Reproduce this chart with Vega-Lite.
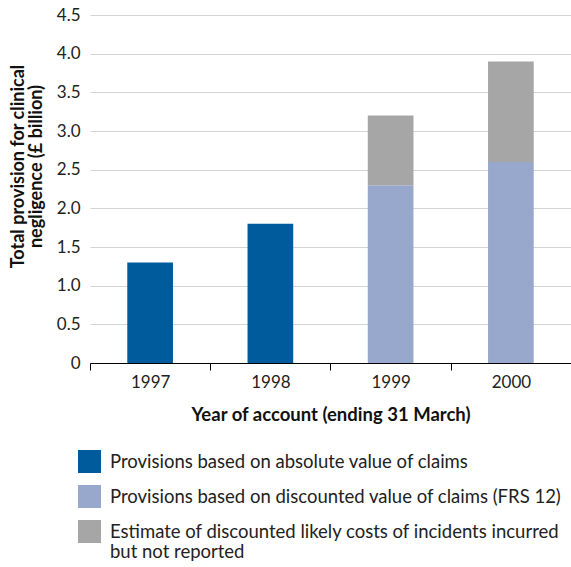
{
  "$schema": "https://vega.github.io/schema/vega-lite/v6.json",
  "autosize": "none",
  "width": 481,
  "height": 348,
  "padding": {"left": 90, "top": 15, "right": 0, "bottom": 204},
  "background": "white",
  "config": {
    "font": "Lato",
    "view": {"stroke": null}
  },
  "data": {
    "values": [
      {"year": "1997", "series": "Provisions based on absolute value of claims", "value": 1.3, "ord": 0},
      {"year": "1998", "series": "Provisions based on absolute value of claims", "value": 1.8, "ord": 0},
      {"year": "1999", "series": "Provisions based on discounted value of claims (FRS 12)", "value": 2.3, "ord": 1},
      {"year": "1999", "series": "Estimate of discounted likely costs of incidents incurred but not reported", "value": 0.9, "ord": 2},
      {"year": "2000", "series": "Provisions based on discounted value of claims (FRS 12)", "value": 2.6, "ord": 1},
      {"year": "2000", "series": "Estimate of discounted likely costs of incidents incurred but not reported", "value": 1.3, "ord": 2}
    ]
  },
  "mark": {"type": "bar"},
  "encoding": {
    "x": {
      "field": "year",
      "type": "nominal",
      "scale": {"paddingInner": 0.62, "paddingOuter": 0.31},
      "axis": {
        "labelAngle": 0,
        "labelFontSize": 17,
        "labelColor": "#222",
        "labelPadding": 4,
        "bandPosition": 0,
        "tickExtra": false,
        "tickOffset": -37.3,
        "labelOffset": 37.3,
        "tickSize": 7,
        "tickColor": "#000",
        "domainColor": "#000",
        "title": "Year of account (ending 31 March)",
        "titleFontSize": 18.5,
        "titleFontWeight": "bold",
        "titleColor": "#111",
        "titlePadding": 15
      }
    },
    "y": {
      "field": "value",
      "type": "quantitative",
      "stack": "zero",
      "scale": {"domain": [0, 4.5]},
      "axis": {
        "values": [0, 0.5, 1, 1.5, 2, 2.5, 3, 3.5, 4, 4.5],
        "labelExpr": "datum.value == 0 ? '0' : format(datum.value, '.1f')",
        "labelFontSize": 17,
        "labelColor": "#222",
        "labelPadding": 10,
        "ticks": false,
        "domain": false,
        "gridColor": "#d4d4d4",
        "gridWidth": 1,
        "title": ["Total provision for clinical", "negligence (£ billion)"],
        "titleFontSize": 18,
        "titleFontWeight": "bold",
        "titleColor": "#111",
        "titleAlign": "center",
        "titleBaseline": "top",
        "titleY": 151,
        "titleX": -81,
        "titleLineHeight": 18
      }
    },
    "color": {
      "field": "series",
      "type": "nominal",
      "scale": {
        "domain": [
          "Provisions based on absolute value of claims",
          "Provisions based on discounted value of claims (FRS 12)",
          "Estimate of discounted likely costs of incidents incurred but not reported"
        ],
        "range": ["#005b9c", "#98a8cc", "#a6a6a6"]
      },
      "legend": {
        "orient": "none",
        "legendX": -12,
        "legendY": 435,
        "direction": "vertical",
        "title": null,
        "symbolType": "square",
        "symbolSize": 529,
        "symbolStrokeWidth": 0,
        "symbolOpacity": 1,
        "labelFontSize": 18.5,
        "labelColor": "#222",
        "labelLimit": 520,
        "labelOffset": 9,
        "rowPadding": 12,
        "labelExpr": "datum.label == 'Estimate of discounted likely costs of incidents incurred but not reported' ? ['Estimate of discounted likely costs of incidents incurred', 'but not reported'] : datum.label"
      }
    },
    "order": {"field": "ord", "type": "quantitative"}
  }
}
